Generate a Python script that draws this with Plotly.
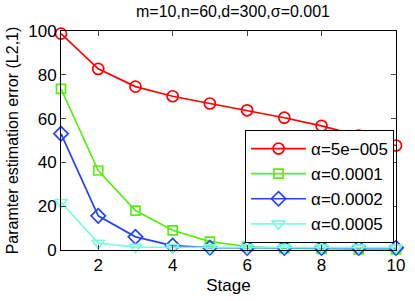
import plotly.graph_objects as go

stages = [1, 2, 3, 4, 5, 6, 7, 8, 9, 10]
err_5e5 = [98.8, 82.7, 74.6, 70.2, 66.9, 63.8, 60.4, 56.7, 52.2, 47.7]
err_1e4 = [73.6, 36.3, 18.0, 9.0, 3.8, 1.6, 0.8, 0.5, 0.3, 0.3]
err_2e4 = [53.1, 15.6, 6.0, 2.0, 1.1, 1.0, 1.0, 1.0, 1.0, 1.0]
err_5e4 = [21.8, 3.2, 1.3, 1.2, 1.1, 1.1, 1.1, 1.1, 1.1, 1.1]
labels = ["α=5e−005", "α=0.0001", "α=0.0002", "α=0.0005"]
colors = ["#ff0000", "#55ee11", "#2244ff", "#77ffe0"]
symbols = ["circle-open", "square-open", "diamond-open", "triangle-down-open"]
sizes = [11, 9, 11, 11]
series = [err_5e5, err_1e4, err_2e4, err_5e4]

fig = go.Figure()
for ys, lab, c, s, sz in zip(series, labels, colors, symbols, sizes):
    fig.add_trace(go.Scatter(
        x=stages, y=ys, name=lab, mode="lines+markers",
        line=dict(color=c, width=1.7),
        marker=dict(symbol=s, size=sz, color=c, line=dict(width=1.7, color=c)),
        cliponaxis=False,
    ))

font = "Liberation Sans, Arial, sans-serif"
fig.update_layout(
    width=415, height=301,
    margin=dict(l=61, r=10, t=31, b=51),
    paper_bgcolor="white", plot_bgcolor="white",
    font=dict(family=font, size=17, color="black"),
    title=dict(text="m=10,n=60,d=300,σ=0.001", x=(61 + 405) / 2 / 415, xanchor="center",
               y=1 - 11 / 301, yanchor="middle", font=dict(size=16)),
    showlegend=True,
    legend=dict(x=(403 - 61) / 344, xanchor="right", y=(250 - 243) / 219, yanchor="bottom",
                bgcolor="white", bordercolor="black", borderwidth=1,
                font=dict(size=17), tracegroupgap=0, itemwidth=55),
    xaxis=dict(range=[1, 10], tickvals=[2, 4, 6, 8, 10], ticks="inside", ticklen=5,
               showline=True, linecolor="black", linewidth=1, mirror="ticks",
               showgrid=False, zeroline=False,
               title=dict(text="Stage", standoff=4, font=dict(size=17)),
               tickfont=dict(size=17)),
    yaxis=dict(range=[0, 100], tickvals=[0, 20, 40, 60, 80, 100], ticks="inside", ticklen=5,
               showline=True, linecolor="black", linewidth=1, mirror="ticks",
               showgrid=False, zeroline=False,
               title=dict(text="Paramter estimation error (L2,1)", standoff=5, font=dict(size=16)),
               tickfont=dict(size=17)),
)

fig.write_html("out.html", config={"displayModeBar": False},
               post_script="document.body.style.margin='0';")
